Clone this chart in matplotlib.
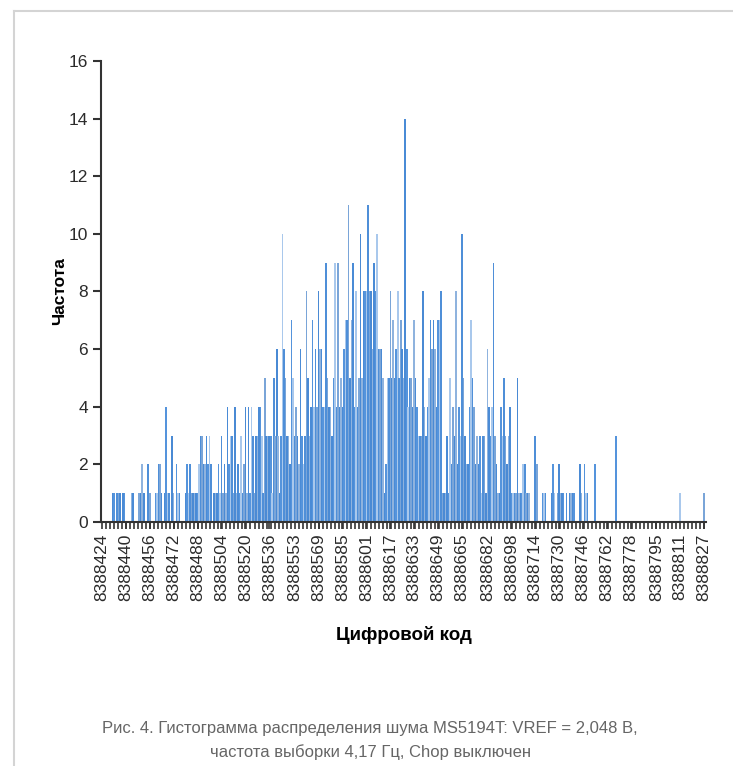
import numpy as np
import matplotlib
matplotlib.use("Agg")
import matplotlib.pyplot as plt
from matplotlib.lines import Line2D

plt.rcParams['font.family'] = ['Liberation Sans', 'DejaVu Sans']

# digital codes 8388424 ... 8388827, one count per code
code_start = 8388424
counts = [
    0, 0, 0, 0, 0, 0, 0,                      # 424-430
    1, 1, 0, 1, 1, 1, 0, 1, 1, 0,             # 431-440
    0, 0, 0, 1, 1, 0, 0, 0,                   # 441-448
    1, 1, 2, 1, 0, 0, 2, 1, 0, 0, 0,          # 449-459
    1, 1, 2, 2, 1, 0, 1, 4, 1, 1, 0, 3, 1, 0, 2, 1, 1, 0, 0, 0,   # 460-479
    1, 2, 1, 2, 1, 1, 1, 1, 1, 2, 3, 3, 2, 2, 3, 2, 3, 2, 0, 1,   # 480-499
    1, 1, 2, 1, 3, 1, 2, 1, 4, 2, 3, 3, 1, 4, 1, 2, 1, 3, 1, 2,   # 500-519
    4, 1, 4, 1, 4, 3, 1,                                          # 520-526
    3, 3, 4, 4, 3, 1, 5, 3, 3, 3, 3, 1, 5, 3, 6, 3, 1, 3, 10, 6,  # 527-546
    5, 3, 3, 2, 7, 5, 3, 4, 3, 2, 6, 3, 2, 3, 8, 5, 3, 4, 7, 4,   # 547-566
    6, 4, 8, 6, 6, 4, 4, 9, 5, 4, 4, 3, 5, 9, 4, 9, 4, 5, 4, 6,   # 567-586
    7, 7, 11, 5, 7, 9, 4, 8, 4, 5, 10, 5, 8, 8, 8, 11, 8, 8, 6, 9,  # 587-606
    8, 10, 6, 6, 6, 5, 1, 2, 5, 5, 8, 5, 7, 5, 6, 8, 5, 7, 6, 5,  # 607-626
    14, 6, 4, 5, 5, 4, 7, 5, 4, 3, 3, 3, 8, 4, 3, 4, 5, 7, 6, 7,  # 627-646
    6, 4, 7, 7, 8, 1, 1, 1, 3, 1, 5, 2, 4, 3, 8, 2, 4, 3, 10, 5,  # 647-666
    3, 2, 2, 4, 7, 5, 4, 2, 3, 2, 3, 1, 3, 3, 1, 6, 4, 3, 4, 9,   # 667-686
    3, 2, 1, 1, 4, 3, 5, 3, 2, 3, 4, 1, 1, 1, 1, 5, 1, 1, 1, 2,   # 687-706
    2, 1, 1, 1, 0, 0, 0, 3, 2, 0, 0, 0, 1, 1, 1, 0, 0, 0, 1, 2,   # 707-726
    1, 0, 1, 2, 1, 1, 1, 0, 1, 0, 1, 1, 1, 1, 0, 0, 0, 2, 1, 0,   # 727-746
    2, 1, 1, 0, 0, 0, 0, 2,                                       # 747-754
    0, 0, 0, 0, 0, 0, 0, 0, 0, 0, 0, 0, 0,                        # 755-767
    3,                                                            # 768
    0, 0, 0, 0, 0, 0, 0, 0, 0, 0, 0, 0, 0, 0, 0, 0, 0, 0, 0, 0, 0,  # 769-789
    0, 0, 0, 0, 0, 0, 0, 0, 0, 0, 0, 0, 0, 0, 0, 0, 0, 0, 0, 0, 0,  # 790-810
    1,                                                            # 811
    0, 0, 0, 0, 0, 0, 0, 0, 0, 0, 0, 0, 0, 0, 0,                  # 812-826
    1,                                                            # 827
]
tick_labels = ['8388424', '8388440', '8388456', '8388472', '8388488', '8388504',
               '8388520', '8388536', '8388553', '8388569', '8388585', '8388601',
               '8388617', '8388633', '8388649', '8388665', '8388682', '8388698',
               '8388714', '8388730', '8388746', '8388762', '8388778', '8388795',
               '8388811', '8388827']

codes = np.arange(code_start, code_start + len(counts))
shades = ['#4a8bd6', '#5594dc', '#a9c8ec', '#4f8fd8', '#7aa5d8', '#4a8ad4', '#8fb3de']
colors = [shades[i % len(shades)] for i in range(len(codes))]

fig = plt.figure(figsize=(7.33, 7.66), dpi=100)
ax = fig.add_axes([0.1378, 0.3185, 0.826, 0.602])

ax.bar(codes, counts, width=1.05, color=colors, linewidth=0)

ax.set_xlim(code_start - 0.6, code_start + len(counts) + 0.6)
ax.set_ylim(0, 16)
ax.set_yticks(range(0, 17, 2))
tick_pos = [int(t) for t in tick_labels]
ax.set_xticks(tick_pos)
ax.set_xticklabels(tick_labels, rotation=90, fontsize=12.5, color='#2b2b2b')
ax.set_xticks(np.arange(code_start, code_start + len(counts) + 1, 16.125 / 6), minor=True)
ax.tick_params(axis='y', labelsize=12.5, length=6, width=1.5, color='#333333', labelcolor='#2b2b2b')
ax.tick_params(axis='x', which='both', length=5, width=1.2, color='#333333', pad=3)

for s in ['top', 'right']:
    ax.spines[s].set_visible(False)
for s in ['left', 'bottom']:
    ax.spines[s].set_color('#333333')
    ax.spines[s].set_linewidth(1.5)

ax.set_ylabel('Частота', fontsize=12.5, fontweight='bold', labelpad=1)
ax.set_xlabel('Цифровой код', fontsize=13.5, fontweight='bold', labelpad=18)

fig.text(0.505, 1 - 728 / 766, 'Рис. 4. Гистограмма распределения шума MS5194T: VREF = 2,048 В,',
         ha='center', va='center', fontsize=12, color='#666666')
fig.text(0.505, 1 - 752 / 766, 'частота выборки 4,17 Гц, Chop выключен',
         ha='center', va='center', fontsize=12, color='#666666')

# thin page frame
fig.add_artist(Line2D([14 / 733, 1], [1 - 11 / 766, 1 - 11 / 766], color='#d4d4d4', lw=1.5))
fig.add_artist(Line2D([14 / 733, 14 / 733], [0, 1 - 11 / 766], color='#d4d4d4', lw=1.5))

fig.savefig('out.png', dpi=100)
